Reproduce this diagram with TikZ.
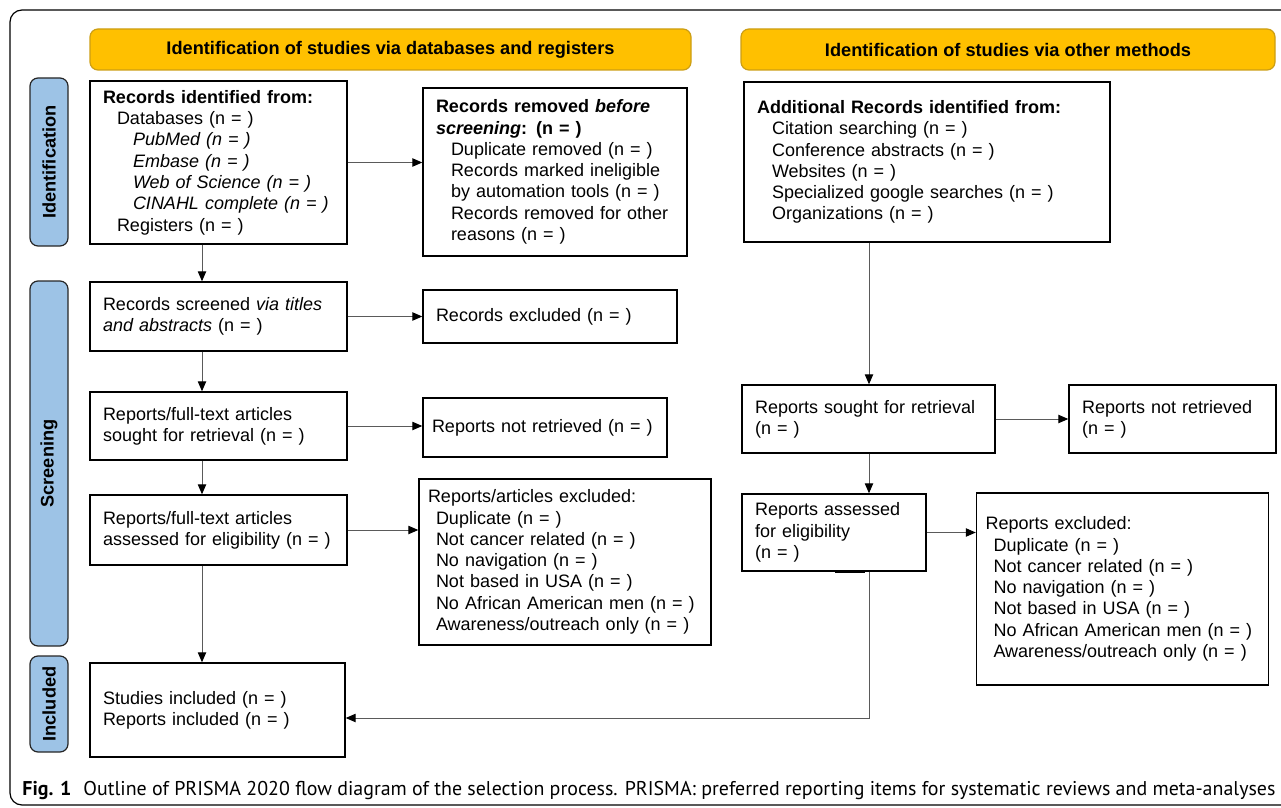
\documentclass[tikz,border=0pt]{standalone}
\usepackage{fontspec}
\setmainfont{Liberation Sans}
\newfontfamily\capfont{PT Sans}
\usetikzlibrary{arrows.meta}
\definecolor{hdrorange}{RGB}{255,192,0}
\definecolor{hdredge}{RGB}{204,158,20}
\definecolor{sideblue}{RGB}{157,195,230}
\definecolor{flowgray}{RGB}{90,90,90}
\begin{document}
\begin{tikzpicture}[x=0.5pt,y=-0.5pt,
  box/.style={draw=black,line width=0.7pt,align=left,inner xsep=6.5pt,inner ysep=0pt,
    font=\fontsize{9}{10.65}\selectfont},
  hdr/.style={draw=hdredge,fill=hdrorange,rounded corners=4pt,line width=0.6pt,
    inner sep=0pt,font=\fontsize{9.1}{10.65}\selectfont\bfseries},
  side/.style={draw=black!85,fill=sideblue,rounded corners=4pt,line width=0.6pt,
    rotate=90,inner sep=0pt,minimum height=19pt,font=\fontsize{9.1}{10.65}\selectfont\bfseries},
  flow/.style={draw=flowgray,line width=0.5pt,-{Triangle[length=5pt,width=4.2pt,color=black]}}]
\useasboundingbox (0,0) rectangle (1281,808);
\draw[line width=0.6pt,rounded corners=6pt] (1300,10) -- (10,10) -- (10,805) -- (1300,805);%frame
% headers and phases
\node[hdr,minimum width=300.5pt,minimum height=20.5pt] (hdbase) at (390.5,49.5)
  {Identification of studies via databases and registers};
\node[hdr,minimum width=267pt,minimum height=20.5pt] (hdother) at (1008,49.5)
  {Identification of studies via other methods};
\node[side,minimum width=84pt] (phid) at (49,162) {Identification};
\node[side,minimum width=182.5pt] (phscr) at (49,463.5) {Screening};
\node[side,minimum width=48pt] (phinc) at (49,704) {Included};
% databases and registers
\node[box,text width=115.5pt,minimum height=81.5pt] (idrec) at (218.5,162.5)
  {\textbf{Records identified from:}\\
   \hspace*{7pt}Databases (n = )\\
   \hspace*{15pt}\textit{PubMed (n = )}\\
   \hspace*{15pt}\textit{Embase (n = )}\\
   \hspace*{15pt}\textit{Web of Science (n = )}\\
   \hspace*{15pt}\textit{CINAHL complete (n = )}\\
   \hspace*{7pt}Registers (n = )};
\node[box,text width=119pt,minimum height=84pt] (removed) at (555,172)
  {\textbf{Records removed \textit{before}}\\
   \textbf{\textit{screening}: (n = )}\\
   \hspace*{7.5pt}Duplicate removed (n = )\\
   \hspace*{7.5pt}Records marked ineligible\\
   \hspace*{7.5pt}by automation tools (n = )\\
   \hspace*{7.5pt}Records removed for other\\
   \hspace*{7.5pt}reasons (n = )};
\node[box,text width=115.5pt,minimum height=34.5pt] (screened) at (218.5,316.5)
  {Records screened \textit{via titles}\\ \textit{and abstracts} (n = )};
\node[box,text width=114pt,minimum height=26.5pt] (recexcl) at (550,316.5)
  {Records excluded (n = )};
\node[box,text width=115.5pt,minimum height=34pt] (sought) at (218.5,426)
  {Reports/full-text articles\\ sought for retrieval (n = )};
\node[box,text width=113pt,inner xsep=4.5pt,minimum height=29.5pt] (notret) at (545,427.5)
  {Reports not retrieved (n = )};
\node[box,text width=115.5pt,minimum height=35pt] (assessed) at (218.5,530)
  {Reports/full-text articles\\ assessed for eligibility (n = )};
\node[box,text width=137pt,inner xsep=4.5pt,minimum height=83pt] (repexcl) at (565,562)
  {Reports/articles excluded:\\
   \hspace*{4pt}Duplicate (n = )\\
   \hspace*{4pt}Not cancer related (n = )\\
   \hspace*{4pt}No navigation (n = )\\
   \hspace*{4pt}Not based in USA (n = )\\
   \hspace*{4pt}No African American men (n = )\\
   \hspace*{4pt}Awareness/outreach only (n = )};
\node[box,text width=114.5pt,minimum height=47pt] (included) at (217.5,710)
  {Studies included (n = )\\ Reports included (n = )};
% other methods
\node[box,text width=170pt,minimum height=80pt] (addrec) at (927,162)
  {\textbf{Additional Records identified from:}\\
   \hspace*{7.5pt}Citation searching (n = )\\
   \hspace*{7.5pt}Conference abstracts (n = )\\
   \hspace*{7.5pt}Websites (n = )\\
   \hspace*{7.5pt}Specialized google searches (n = )\\
   \hspace*{7.5pt}Organizations (n = )};
\node[box,text width=113.5pt,minimum height=34pt] (osought) at (868.5,419)
  {Reports sought for retrieval\\ (n = )};
\node[box,text width=90.5pt,minimum height=34pt] (onotret) at (1172.5,419)
  {Reports not retrieved\\ (n = )};
\node[box,text width=79pt,minimum height=38.5pt] (oassessed) at (834,532.5)
  {Reports assessed\\ for eligibility\\ (n = )};
\node[box,text width=137pt,inner xsep=4.5pt,minimum height=96pt] (oexcl) at (1122.5,589)
  {Reports excluded:\\
   \hspace*{4pt}Duplicate (n = )\\
   \hspace*{4pt}Not cancer related (n = )\\
   \hspace*{4pt}No navigation (n = )\\
   \hspace*{4pt}Not based in USA (n = )\\
   \hspace*{4pt}No African American men (n = )\\
   \hspace*{4pt}Awareness/outreach only (n = )};
% connectors
\coordinate (lcol) at (202,0);
\coordinate (rcol) at (869,0);
\coordinate (rturn) at (869,718);
\draw[flow] (idrec.east) -- (idrec.east -| removed.west);
\draw[flow] (screened.east) -- (screened.east -| recexcl.west);
\draw[flow] (sought.east) -- (sought.east -| notret.west);
\draw[flow] (assessed.east) -- (assessed.east -| repexcl.west);
\draw[flow] (idrec.south -| lcol) -- (screened.north -| lcol);
\draw[flow] (screened.south -| lcol) -- (sought.north -| lcol);
\draw[flow] (sought.south -| lcol) -- (assessed.north -| lcol);
\draw[flow] (assessed.south -| lcol) -- (included.north -| lcol);
\draw[flow] (addrec.south -| rcol) -- (osought.north -| rcol);
\draw[flow] (osought.east) -- (osought.east -| onotret.west);
\draw[flow] (osought.south -| rcol) -- (oassessed.north -| rcol);
\draw[flow] (oassessed.east) -- (oassessed.east -| oexcl.west);
\draw[flow] (oassessed.south -| rturn) -- (rturn) -- (rturn -| included.east);
\draw[line width=1.1pt] (oassessed.south west) ++(94,0) -- ++(30,0);
% caption
\node[anchor=base west,inner sep=0pt] (caption) at (22,795)
  {\resizebox{626.5pt}{!}{\capfont\fontsize{10}{12}\selectfont\textbf{Fig. 1}\hspace{0.6em}Outline of PRISMA 2020 flow diagram of the selection process. PRISMA: preferred reporting items for systematic reviews and meta-analyses}};
\end{tikzpicture}
\end{document}
